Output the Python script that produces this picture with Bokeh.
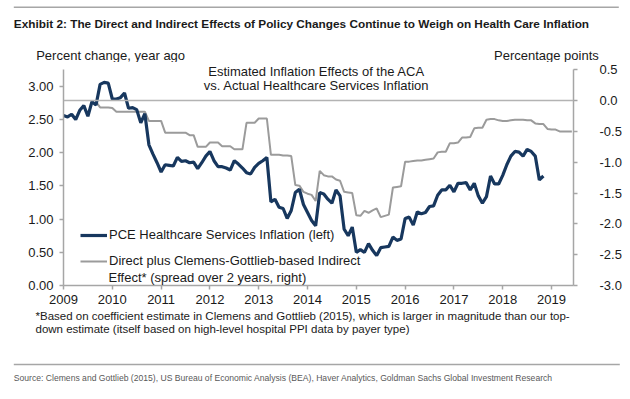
from bokeh.plotting import figure
from bokeh.layouts import column, row
from bokeh.models import (Range1d, LinearAxis, FixedTicker, NumeralTickFormatter,
                          Span, Label, Legend, LegendItem, BoxAnnotation)
from bokeh.embed import file_html
from bokeh.resources import INLINE

# ---------------- data ----------------
start_year = 2009
# PCE healthcare services inflation, % y/y, monthly from Jan 2009 (left axis)
pce_first_month = 0
pce_values = [2.56, 2.54, 2.58, 2.50, 2.64, 2.71, 2.55, 2.77, 2.72, 3.03,
              3.06, 3.05, 2.81, 2.81, 2.83, 2.90, 2.67, 2.68, 2.65, 2.45,
              2.59, 2.12, 1.98, 1.85, 1.71, 1.82, 1.81, 1.80, 1.93, 1.87,
              1.88, 1.85, 1.86, 1.76, 1.85, 1.95, 2.02, 1.88, 1.79, 1.79,
              1.77, 1.74, 1.88, 1.83, 1.77, 1.70, 1.68, 1.78, 1.84, 1.88,
              1.93, 1.26, 1.30, 1.18, 1.16, 1.01, 1.13, 1.40, 1.45, 1.22,
              1.10, 0.98, 0.90, 1.40, 1.38, 1.30, 1.24, 1.44, 1.35, 0.85,
              0.75, 0.88, 0.50, 0.54, 0.50, 0.63, 0.53, 0.45, 0.57, 0.58,
              0.59, 0.73, 0.68, 0.70, 1.01, 1.03, 0.91, 1.11, 1.08, 1.10,
              1.19, 1.20, 1.36, 1.44, 1.44, 1.51, 1.41, 1.54, 1.54, 1.55,
              1.44, 1.54, 1.35, 1.24, 1.34, 1.65, 1.53, 1.53, 1.66, 1.82,
              1.95, 2.02, 2.01, 1.95, 2.05, 2.02, 1.95, 1.59, 1.65]
# Direct plus Clemens-Gottlieb-based indirect effect, pp (right axis), monthly from Sep 2009
aca_first_month = 8
aca_values = [-0.02,
              -0.11, -0.11, -0.11, -0.12,
              -0.18, -0.18, -0.18, -0.18, -0.18, -0.18, -0.18, -0.18,
              -0.33, -0.33, -0.33, -0.33,
              -0.52, -0.52, -0.52, -0.52, -0.52, -0.52,
              -0.56, -0.56,
              -0.75, -0.75, -0.75,
              -0.68, -0.68, -0.68,
              -0.74, -0.74, -0.74,
              -0.79, -0.79, -0.79,
              -0.36, -0.36, -0.36,
              -0.29, -0.29, -0.29,
              -0.88, -0.88, -0.88, -0.89, -0.89, -0.90,
              -1.37, -1.38,
              -1.48, -1.51, -1.53, -1.63,
              -1.14, -1.21, -1.23, -1.23, -1.28, -1.30,
              -1.48, -1.49, -1.50,
              -1.86, -1.87, -1.79, -1.82, -1.78, -1.75,
              -1.89, -1.87, -1.85,
              -1.41, -1.40, -1.39,
              -0.99, -0.99, -0.98, -0.97, -0.97, -0.96, -0.95, -0.94,
              -0.84, -0.83, -0.83,
              -0.69, -0.69, -0.68,
              -0.60, -0.60, -0.59,
              -0.45, -0.44, -0.44,
              -0.31, -0.30, -0.30, -0.32, -0.33, -0.33, -0.32, -0.31, -0.31, -0.31, -0.32, -0.32,
              -0.37, -0.38, -0.38,
              -0.46, -0.47, -0.47,
              -0.50, -0.50, -0.50, -0.50]
year_ticks = list(range(2009, 2020))
left_ticks = [0.0, 0.5, 1.0, 1.5, 2.0, 2.5, 3.0]
right_ticks = [-3.0, -2.5, -2.0, -1.5, -1.0, -0.5, 0.0, 0.5]
left_bounds = (0.0, 3.25)
right_bounds = (-3.0, 0.5)

pce_x = [start_year + (pce_first_month + i) / 12 for i in range(len(pce_values))]
aca_x = [start_year + (aca_first_month + i) / 12 for i in range(len(aca_values))]

# ---------------- styles ----------------
FONT = "Liberation Sans"
TXT = "#1a1a1a"
AXC = "#a6a6a6"
NAVY = "#17375e"
GRAY = "#9b9b9b"
W = 630
TOP_H, MAIN_H, BOT_H = 62, 248, 89
MAIN_TOP_BORDER = 2
FRAME_H = 221          # main plot frame height in px
BOUND_PX = 215.7       # px spanned by the axis bounds


def text_panel(h):
    f = figure(width=W, height=h, x_range=Range1d(0, 1), y_range=Range1d(0, 1),
               x_axis_location=None, y_axis_location=None,
               output_backend="svg", toolbar_location=None,
               min_border_left=0, min_border_right=0, min_border_top=0, min_border_bottom=0)
    f.outline_line_color = None
    f.grid.visible = False
    f.background_fill_color = "white"
    f.border_fill_color = "white"
    return f


def lab(fig, text, x, y, font=FONT, size="13px", color=TXT, align="left", style="normal"):
    fig.add_layout(Label(x=x, y=y, x_units="screen", y_units="screen", text=text,
                         text_font=font, text_font_size=size, text_color=color,
                         text_align=align, text_baseline="middle", text_font_style=style))


def rule(fig, x0, x1, y, thick=1.4):
    fig.add_layout(BoxAnnotation(left=x0, right=x1, top=y + thick / 2, bottom=y - thick / 2,
                                 left_units="screen", right_units="screen",
                                 top_units="screen", bottom_units="screen",
                                 fill_color=AXC, fill_alpha=1, line_alpha=0))


# ---------------- top text panel ----------------
top = text_panel(TOP_H)
rule(top, 13.3, 618.3, TOP_H - 6.7)
lab(top, "Exhibit 2: The Direct and Indirect Effects of Policy Changes Continue to Weigh on Health Care Inflation",
    13.3, TOP_H - 23.3, size="11.8px", style="bold")
lab(top, "Percent change, year ago", 35.7, TOP_H - 55)
lab(top, "Percentage points", 598.3, TOP_H - 55, align="right")

# ---------------- main chart ----------------
ltop = left_bounds[0] + (left_bounds[1] - left_bounds[0]) * FRAME_H / BOUND_PX
rtop = right_bounds[0] + (right_bounds[1] - right_bounds[0]) * FRAME_H / BOUND_PX
p = figure(width=W, height=MAIN_H, x_range=Range1d(2009, 2019.45), y_range=Range1d(left_bounds[0], ltop),
           output_backend="svg", toolbar_location=None,
           min_border_left=63, min_border_right=57, min_border_top=MAIN_TOP_BORDER,
           min_border_bottom=MAIN_H - FRAME_H - MAIN_TOP_BORDER)
p.outline_line_color = None
p.xgrid.visible = False
p.ygrid.visible = False
p.background_fill_color = "white"
p.border_fill_color = "white"
p.extra_y_ranges = {"right": Range1d(right_bounds[0], rtop)}

ya = p.yaxis[0]
ya.ticker = FixedTicker(ticks=left_ticks)
ya.formatter = NumeralTickFormatter(format="0.00")
ya.bounds = left_bounds
ra = LinearAxis(y_range_name="right", ticker=FixedTicker(ticks=right_ticks),
                formatter=NumeralTickFormatter(format="0.0"), bounds=right_bounds)
p.add_layout(ra, "right")
xa = p.xaxis[0]
xa.ticker = FixedTicker(ticks=year_ticks)
xa.formatter = NumeralTickFormatter(format="0")

for ax in (ya, ra, xa):
    ax.axis_line_color = AXC
    ax.axis_line_width = 1.5
    ax.major_tick_line_color = AXC
    ax.major_tick_line_width = 1.5
    ax.major_tick_out = 4
    ax.major_tick_in = 0
    ax.minor_tick_out = 0
    ax.minor_tick_in = 0
    ax.major_label_text_font = FONT
    ax.major_label_text_font_size = "13px"
    ax.major_label_text_color = TXT
ya.major_label_standoff = 6
xa.major_label_standoff = 5
ra.major_label_text_align = "right"
ra.major_label_standoff = 22

p.add_layout(Span(location=0, dimension="width", y_range_name="right",
                  line_color="#b3b3b3", line_width=1.5))

r_aca = p.line(aca_x, aca_values, y_range_name="right", line_color=GRAY, line_width=2)
r_pce = p.line(pce_x, pce_values, line_color=NAVY, line_width=3.2)

legend = Legend(items=[LegendItem(label="PCE Healthcare Services Inflation (left)", renderers=[r_pce]),
                       LegendItem(label="Direct plus Clemens-Gottlieb-based Indirect", renderers=[r_aca])],
                location=(17, 16.3), padding=0, margin=0, spacing=10,
                glyph_width=27, glyph_height=16, label_height=16, label_standoff=2,
                label_text_font=FONT, label_text_font_size="13px", label_text_color=TXT,
                background_fill_alpha=0, border_line_alpha=0)
p.add_layout(legend)

lab(p, "Effect* (spread over 2 years, right)", 45, 8.3)
lab(p, "Estimated Inflation Effects of the ACA", 253, 214.3, align="center")
lab(p, "vs. Actual Healthcare Services Inflation", 253, 200, align="center")

# ---------------- bottom text panel ----------------
bot = text_panel(BOT_H)
y0 = TOP_H + MAIN_H  # page y of the panel's top edge
lab(bot, "*Based on coefficient estimate in Clemens and Gottlieb (2015), which is larger in magnitude than our top-",
    35, y0 + BOT_H - 315, size="11.5px")
lab(bot, "down estimate (itself based on high-level hospital PPI data by payer type)", 35, y0 + BOT_H - 328.3,
    size="11.5px")
rule(bot, 13.3, 619.3, y0 + BOT_H - 364)
lab(bot, "Source: Clemens and Gottlieb (2015), US Bureau of Economic Analysis (BEA), Haver Analytics, Goldman Sachs Global Investment Research",
    13.3, y0 + BOT_H - 377.3, size="8.6px", color="#595959")

layout = column(row(top), row(p), row(bot), spacing=0)
open("out.html", "w").write(file_html(layout, INLINE))
